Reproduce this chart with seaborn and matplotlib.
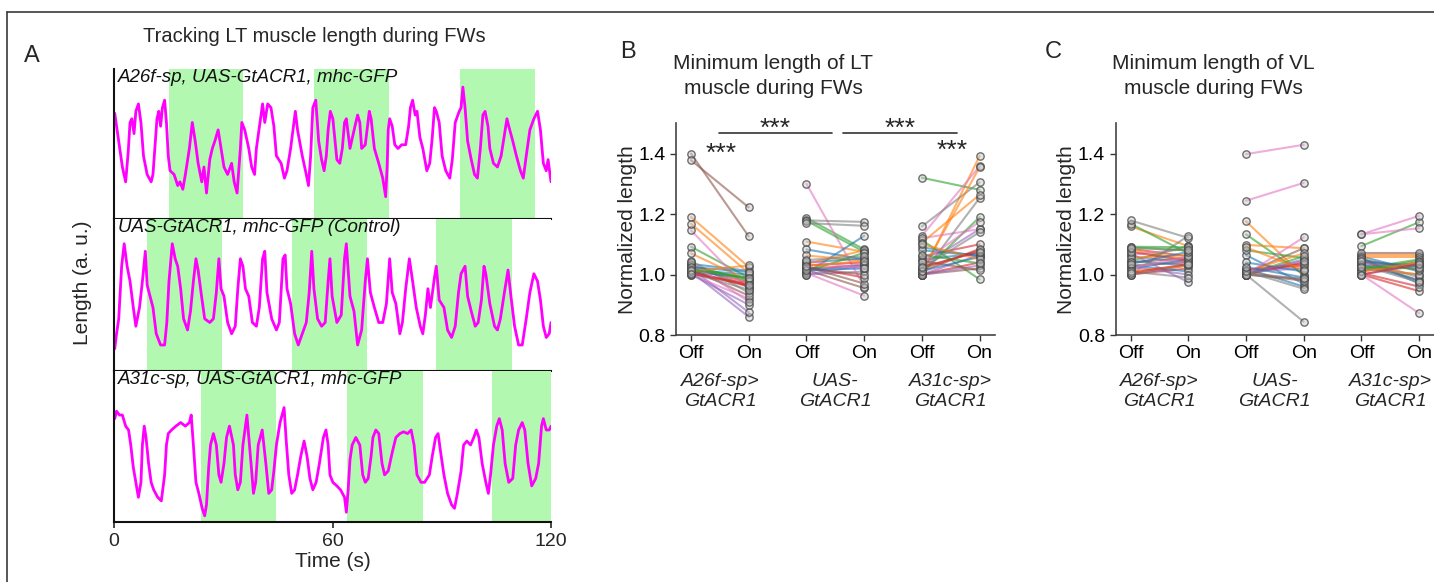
import numpy as np
import pandas as pd
import matplotlib
matplotlib.use("Agg")
import matplotlib.pyplot as plt
import seaborn as sns
from matplotlib.lines import Line2D

sns.set_style("ticks")
plt.rcParams["font.family"] = ["Liberation Sans", "DejaVu Sans"]

# ---------------- Panel A data (time s, length a.u.) ----------------
trace_labels = ["A26f-sp, UAS-GtACR1, mhc-GFP",
                "UAS-GtACR1, mhc-GFP (Control)",
                "A31c-sp, UAS-GtACR1, mhc-GFP"]

trace_top = [(0.2,71.2),(1.3,52.5),(2.3,35),(3.2,25),(3.9,45),(4.4,65),(4.9,67.5),(5.5,57.5),(6.0,72.5),(6.7,77.5),
 (7.4,65),(8.1,42.5),(9.1,30),(10.2,25),(10.7,30),(11.2,47.5),(11.8,67.5),(12.3,72.5),(12.8,62.5),(13.3,75),
 (13.9,80),(14.4,65),(14.9,42.5),(15.4,32.5),(16.5,30),(17.5,22.5),(18.1,25),(18.9,20),(19.6,30),(20.7,47.5),
 (21.5,65),(22.3,52.5),(23.1,37.5),(24.1,25),(24.7,35),(25.4,17.5),(26.3,40),(27.0,47.5),(27.7,52.5),(28.6,60),
 (29.4,47.5),(30.2,35),(31.2,30),(32.3,37.5),(33.0,25),(33.8,17.5),(34.7,47.5),(35.1,65),(35.9,60),(37.0,47.5),
 (37.8,35),(38.6,30),(39.1,47.5),(40.1,65),(40.8,77.5),(41.4,65),(42.2,77.5),(43.1,75),(43.9,62.5),(44.6,42.5),
 (45.9,37.5),(46.8,27.5),(47.5,32.5),(48.5,47.5),(49.4,65),(49.8,72.5),(50.4,60),(51.7,42.5),(52.8,30),(53.4,22.5),
 (54.0,42.5),(54.6,75),(55.4,80),(56.2,52.5),(57.0,40),(57.7,32.5),(58.3,42.5),(58.8,60),(59.4,72.5),(60.1,67.5),
 (61.2,40),(62.0,37.5),(62.7,47.5),(63.3,65),(63.8,67.5),(64.8,47.5),(66.4,65),(66.9,70),(67.5,65),(68.0,47.5),
 (69.0,50),(70.1,72.5),(70.6,67.5),(71.5,47.5),(72.7,37.5),(73.8,27.5),(74.6,15),(75.0,35),(75.3,60),(75.7,67.5),
 (76.4,62.5),(77.1,50),(78.0,47.5),(79.0,50),(80.1,50),(80.9,62.5),(81.4,75),(82.0,80),(82.7,70),(83.2,72.5),
 (84.0,55),(84.8,47.5),(85.9,32.5),(86.7,37.5),(87.4,55),(88.0,75),(88.5,72.5),(89.3,65),(90.1,42.5),(91.1,32.5),
 (92.2,27.5),(92.9,40),(93.7,65),(94.8,72.5),(95.3,75),(95.8,88.8),(96.4,75),(97.1,52.5),(98.1,40),(99.0,30),
 (99.8,27.5),(100.6,47.5),(101.3,70),(101.9,72.5),(102.7,62.5),(103.2,47.5),(104.2,37.5),(105.3,35),(106.3,42.5),(107.4,60),
 (107.9,67.5),(108.4,62.5),(109.5,52.5),(110.5,42.5),(111.6,32.5),(112.4,27.5),(113.2,42.5),(114.2,60),(115.3,67.5),(116.3,72.5),
 (117.1,60),(117.9,37.5),(118.7,32.5),(119.2,40),(120.0,25)]

trace_mid = [(0.2,14.5),(0.7,24.5),(1.3,34.5),(2.1,69.5),(2.8,84.5),(3.6,69.5),(4.4,59.5),(5.3,42),(6.0,29.5),(7.0,42),
 (7.8,59.5),(8.6,79.5),(9.1,57),(9.9,49.5),(10.7,42),(11.6,24.5),(12.8,17),(13.9,17),(14.5,32),(15.1,59.5),
 (16.0,84.5),(16.8,74.5),(17.5,69.5),(18.3,54.5),(19.1,34.5),(20.2,27),(21.0,39.5),(21.8,59.5),(22.5,74.5),(23.1,67),
 (23.9,52),(24.9,34.5),(26.3,32),(27.3,34.5),(28.1,52),(28.8,74.5),(29.4,54.5),(30.2,49.5),(31.2,32),(32.3,24.5),
 (33.3,29.5),(34.0,54.5),(34.7,74.5),(35.4,69.5),(36.1,54.5),(37.0,49.5),(38.0,32),(39.1,29.5),(39.9,42),(40.8,74.5),
 (41.4,79.5),(42.0,52),(43.3,34.5),(44.6,27),(45.4,32),(46.4,74.5),(47.0,77),(47.5,54.5),(48.5,44.5),(49.6,24.5),
 (50.6,17),(51.7,24.5),(52.8,32),(53.6,52),(54.3,79.5),(54.9,54.5),(55.9,34.5),(57.0,29.5),(58.0,32),(58.8,59.5),
 (59.3,74.5),(59.9,49.5),(61.2,32),(62.4,37),(63.3,74.5),(63.8,84.5),(64.8,49.5),(65.9,39.5),(66.9,17),(68.0,27),
 (69.0,59.5),(69.6,74.5),(70.4,52),(71.5,42),(72.7,32),(73.8,32),(74.8,44.5),(75.7,74.5),(76.4,52),(77.4,44.5),
 (78.5,24.5),(79.2,32),(80.1,54.5),(81.1,74.5),(82.0,59.5),(83.0,42),(84.1,29.5),(84.8,24.5),(85.5,37),(86.2,54.5),
 (86.9,42),(88.0,62),(88.5,69.5),(89.3,47),(90.6,42),(91.6,27),(92.7,22),(93.7,29.5),(94.6,52),(95.3,64.5),
 (96.4,69.5),(97.1,49.5),(98.1,39.5),(99.2,29.5),(100.0,32),(100.9,47),(101.6,69.5),(102.1,64.5),(103.2,44.5),(104.5,29.5),
 (105.3,27),(106.1,34.5),(107.2,52),(108.2,67),(109.0,49.5),(110.0,29.5),(111.1,17),(112.1,17),(113.2,34.5),(114.2,52),
 (115.3,64.5),(116.3,59.5),(117.1,47),(117.9,29.5),(118.7,22),(119.5,24.5),(120.0,32)]

trace_bot = [(0.2,68.8),(0.7,73.8),(1.5,71.2),(2.3,71.2),(3.2,63.8),(4.0,61.2),(4.6,51.2),(5.3,36.2),(6.0,26.2),(6.7,16.2),
 (7.4,26.2),(7.8,51.2),(8.3,63.8),(8.8,56.2),(9.5,38.8),(10.2,26.2),(10.9,21.2),(12.0,16.2),(13.0,13.8),(13.9,31.2),
 (14.4,51.2),(14.9,58.8),(15.8,61.2),(17.0,63.8),(18.3,66.2),(19.6,63.8),(20.7,66.2),(21.2,71.2),(21.8,51.2),(22.5,26.2),
 (23.3,18.8),(24.2,8.8),(24.9,3.8),(25.4,11.2),(26.0,36.2),(26.5,51.2),(27.3,58.8),(28.1,51.2),(28.8,31.2),(29.4,26.2),
 (30.2,38.8),(30.9,56.2),(31.7,63.8),(32.8,51.2),(33.3,31.2),(34.0,21.2),(34.7,26.2),(35.4,51.2),(36.5,71.2),(37.2,51.2),
 (37.8,33.8),(38.3,18.8),(38.9,26.2),(39.6,51.2),(40.7,61.2),(41.7,38.8),(42.5,18.8),(43.3,21.2),(43.9,33.8),(44.6,51.2),
 (45.6,66.2),(46.7,76.2),(47.3,53.8),(48.0,31.2),(48.8,18.8),(49.6,21.2),(50.4,31.2),(51.3,43.8),(52.2,53.8),(53.0,43.8),
 (53.8,28.8),(54.6,21.2),(55.5,26.2),(56.4,38.8),(57.5,56.2),(58.2,61.2),(58.8,51.2),(59.3,31.2),(60.1,26.2),(61.2,23.8),
 (62.2,21.2),(63.3,16.2),(63.8,6.2),(64.3,21.2),(64.8,41.2),(65.4,51.2),(66.4,56.2),(67.5,51.2),(68.3,31.2),(69.0,26.2),
 (69.8,28.8),(70.6,43.8),(71.1,56.2),(71.9,61.2),(72.7,58.8),(73.6,38.8),(74.3,31.2),(75.3,33.8),(76.4,46.2),(77.4,56.2),
 (78.5,58.8),(79.5,60),(80.6,58.8),(81.6,61.2),(82.4,51.2),(83.2,31.2),(84.3,26.2),(85.3,26.2),(86.6,31.2),(87.4,43.8),
 (88.3,56.2),(89.0,58.8),(89.7,46.2),(90.6,31.2),(91.6,18.8),(92.7,11.2),(93.5,8.8),(94.3,18.8),(95.3,33.8),(96.0,51.2),
 (96.9,53.8),(97.9,51.2),(98.8,56.2),(99.5,61.2),(100.2,56.2),(101.1,38.8),(102.1,26.2),(102.8,18.8),(103.4,31.2),(104.2,51.2),
 (105.1,63.8),(105.8,68.8),(106.6,61.2),(107.4,38.8),(108.4,26.2),(109.5,28.8),(110.3,51.2),(111.1,61.2),(112.1,66.2),(112.8,61.2),
 (113.7,38.8),(114.7,23.8),(115.8,28.8),(116.6,38.8),(117.4,63.8),(117.9,68.8),(118.7,61.2),(119.5,61.2),(120.0,63.8)]

light_on_top = [(15.0, 35.5), (55.0, 75.5), (95.0, 115.5)]
light_on_mid = [(9.0, 29.6), (48.8, 69.4), (88.5, 109.3)]
light_on_bot = [(23.9, 44.6), (64.1, 84.8), (103.9, 120.0)]
time_ticks = [0, 60, 120]

# ---------------- Panels B / C data ----------------
cond_labels = ["Off", "On", "Off", "On", "Off", "On"]
group_labels = ["A26f-sp>\nGtACR1", "UAS-\nGtACR1", "A31c-sp>\nGtACR1"]

lt_a26f_off = [1.035,1.19,1.092,1.02,1.01,1.40,1.146,1.03,1.015,1.168,1.025,1.005,1.02,1.378,1.00,1.045,1.008,1.07,1.03,1.012,1.0,1.018,1.04,1.005,1.025,1.01,1.015,1.003]
lt_a26f_on  = [1.012,1.025,0.99,0.975,0.86,1.126,0.95,0.96,1.00,1.005,0.985,0.97,0.875,1.222,0.92,0.94,0.99,0.98,0.98,0.96,0.90,0.93,0.91,0.95,1.008,1.03,0.99,0.965]
lt_uas_off = [1.083,1.109,1.187,1.02,1.0,1.015,1.30,1.179,1.005,1.063,1.178,1.03,1.01,1.025,1.005,1.17,1.04,1.035,1.01,1.025,1.0,1.02,1.045,1.048,1.015,1.028]
lt_uas_on  = [1.05,1.075,1.083,1.03,1.01,0.955,0.96,1.174,1.128,1.045,1.075,1.04,1.035,0.97,0.93,1.161,1.053,1.08,1.072,0.99,1.03,1.00,1.02,1.06,1.02,1.045]
lt_a31c_off = [1.09,1.0,1.32,1.06,1.0,1.02,1.128,1.159,1.05,1.01,1.114,1.00,1.03,1.0,1.12,1.0,1.08,1.105,1.005,1.01,1.0,1.045,1.04,1.02,1.012,1.1,1.065,1.025]
lt_a31c_on  = [1.06,1.392,1.28,1.10,1.065,1.08,1.358,1.305,1.07,1.355,0.984,1.04,1.15,1.02,1.15,1.253,1.062,1.264,1.19,1.085,1.03,1.014,1.175,1.14,1.058,1.05,1.037,1.075]

vl_a26f_off = [1.02,1.159,1.168,1.085,1.07,1.03,1.09,1.179,1.045,1.08,1.045,1.0,1.06,1.0,1.065,1.0,1.03,1.055,1.092,1.075,1.025,1.04,1.02,1.01,1.035,1.01,1.088,1.005]
vl_a26f_on  = [1.05,1.094,1.07,1.06,0.975,1.04,1.08,1.121,1.03,1.05,1.094,1.02,1.04,1.03,1.085,1.128,1.01,1.065,1.09,1.045,1.0,1.055,1.06,0.99,1.075,1.03,1.08,1.035]
vl_uas_off = [1.064,1.176,1.133,1.01,1.0,1.005,1.398,1.0,1.02,1.098,1.08,1.0,1.01,1.005,1.244,1.0,1.04,1.01,1.0,1.015,1.005,1.0,1.0,1.01,1.025,1.09]
vl_uas_on  = [0.97,0.995,1.0,1.03,1.05,1.087,1.429,0.844,0.96,1.087,1.055,1.04,1.02,0.985,1.303,0.985,1.01,1.07,1.06,1.035,1.045,0.98,1.123,0.953,0.99,1.015]
vl_a31c_off = [1.06,1.065,1.094,1.0,1.04,1.072,1.133,1.05,1.055,1.058,1.02,1.01,1.03,1.045,1.133,1.02,1.035,1.025,1.015,1.005,1.0,1.05,1.0,1.03,1.045,1.01,1.025,1.0]
vl_a31c_on  = [1.01,1.065,1.173,0.945,1.03,1.072,1.194,0.99,0.97,1.058,1.05,1.04,1.035,0.98,1.153,1.0,0.98,1.0,1.045,0.96,1.03,1.015,0.872,0.975,1.025,1.04,1.02,1.035]

# ---------------- Figure ----------------
W, H = 1434, 582
fig = plt.figure(figsize=(W / 100, H / 100), dpi=100)

def fx(px):
    return px / W

def fy(py):
    return 1 - py / H

# figure frame (top and left)
fig.add_artist(Line2D([fx(7), 1.0], [fy(12), fy(12)], color="#3a3a3a", lw=1.2))
fig.add_artist(Line2D([fx(7), fx(7)], [0.0, fy(12)], color="#3a3a3a", lw=1.2))

magenta = "#ff00ff"
green_band = "#b3f8b0"
axA_left, axA_w = fx(114), (551 - 114) / W
rows = [(69, 219), (219, 370.5), (370.5, 521.5)]
traces = [trace_top, trace_mid, trace_bot]
bands = [light_on_top, light_on_mid, light_on_bot]
for k in range(3):
    top, bot = rows[k]
    ax = fig.add_axes([axA_left, fy(bot), axA_w, (bot - top) / H])
    for (a, b) in bands[k]:
        ax.axvspan(a, b, color=green_band, lw=0, zorder=0)
    t = [p[0] for p in traces[k]]
    v = [p[1] for p in traces[k]]
    sns.lineplot(x=t, y=v, ax=ax, color=magenta, lw=2.0, estimator=None, sort=False, zorder=2)
    ax.set_xlim(0, 120)
    ax.set_ylim(0, 101)
    ax.set_yticks([])
    for s in ["top", "right"]:
        ax.spines[s].set_visible(False)
    for s in ["left", "bottom"]:
        ax.spines[s].set_linewidth(1.5)
        ax.spines[s].set_color("#111111")
    ax.text(0.009, 1.0, trace_labels[k], transform=ax.transAxes, ha="left", va="top",
            fontsize=13.5, style="italic", color="#111111")
    if k < 2:
        ax.set_xticks([])
    else:
        ax.set_xticks(time_ticks)
        ax.set_xticklabels([str(x) for x in time_ticks])
        ax.tick_params(axis="x", labelsize=14, length=4, width=1.2, pad=4)
        ax.set_xlabel("Time (s)", fontsize=15, labelpad=2)

fig.text(fx(314), fy(37), "Tracking LT muscle length during FWs", ha="center", va="center", fontsize=14.5)
fig.text(fx(32), fy(56), "A", ha="center", va="center", fontsize=17)
fig.text(fx(82), fy(283), "Length (a. u.)", ha="center", va="center", rotation=90, fontsize=15)

palette8 = sns.color_palette("tab10")[:8]

def paired_panel(left_px, datasets, title, letter, letter_px, title_px, stars):
    ax = fig.add_axes([fx(left_px), fy(335), 318.6 / W, (335 - 123.3) / H])
    rows_l = []
    for g, (off, on) in enumerate(datasets):
        for i, (a, b) in enumerate(zip(off, on)):
            sid = f"{g}_{i}"
            rows_l.append((sid, 2 * g, a, i))
            rows_l.append((sid, 2 * g + 1, b, i))
    df = pd.DataFrame(rows_l, columns=["sid", "x", "y", "idx"])
    pal = {sid: palette8[idx % 8] for sid, idx in zip(df["sid"], df["idx"])}
    sns.lineplot(data=df, x="x", y="y", hue="sid", palette=pal, legend=False, ax=ax,
                 estimator=None, alpha=0.6, lw=1.5, sort=False)
    sns.scatterplot(data=df, x="x", y="y", ax=ax, s=28, facecolor=(0.78, 0.78, 0.78, 0.45),
                    edgecolor=(0.3, 0.3, 0.3, 0.8), linewidth=1.0, zorder=3, legend=False)
    ax.set_xlim(-0.26, 5.26)
    ax.set_ylim(0.8, 1.5)
    ax.set_yticks([0.8, 1.0, 1.2, 1.4])
    ax.set_yticklabels(["0.8", "1.0", "1.2", "1.4"])
    ax.set_xticks(range(6))
    ax.set_xticklabels(cond_labels)
    ax.tick_params(axis="both", labelsize=14, length=4, width=1.0, colors="#333333", labelcolor="black")
    ax.tick_params(axis="x", pad=3)
    ax.set_xlabel("")
    ax.set_ylabel("Normalized length", fontsize=15, labelpad=1)
    for s in ["top", "right"]:
        ax.spines[s].set_visible(False)
    for s in ["left", "bottom"]:
        ax.spines[s].set_color("#444444")
        ax.spines[s].set_linewidth(1.2)
    tr = matplotlib.transforms.blended_transform_factory(ax.transData, ax.transAxes)
    for g, lab in enumerate(group_labels):
        ax.text(2 * g + 0.5, -0.267, lab, transform=tr, ha="center", va="center",
                fontsize=14, style="italic", linespacing=1.3)
    fig.text(fx(title_px), fy(76), title, ha="center", va="center", fontsize=15, linespacing=1.45)
    fig.text(fx(letter_px), fy(52), letter, ha="center", va="center", fontsize=17)
    if stars:
        for (x0, x1) in [(0.48, 2.45), (2.64, 4.61)]:
            ax.plot([x0, x1], [1.467, 1.467], color="#333333", lw=1.2, clip_on=False)
            ax.text((x0 + x1) / 2, 1.482, "***", ha="center", va="center", fontsize=19)
        ax.text(0.52, 1.398, "***", ha="center", va="center", fontsize=19)
        ax.text(4.52, 1.408, "***", ha="center", va="center", fontsize=19)
    return ax

paired_panel(676, [(lt_a26f_off, lt_a26f_on), (lt_uas_off, lt_uas_on), (lt_a31c_off, lt_a31c_on)],
             "Minimum length of LT\nmuscle during FWs", "B", 628, 773, True)
paired_panel(1115.5, [(vl_a26f_off, vl_a26f_on), (vl_uas_off, vl_uas_on), (vl_a31c_off, vl_a31c_on)],
             "Minimum length of VL\nmuscle during FWs", "C", 1053, 1213, False)

fig.savefig("out.png", dpi=100)
